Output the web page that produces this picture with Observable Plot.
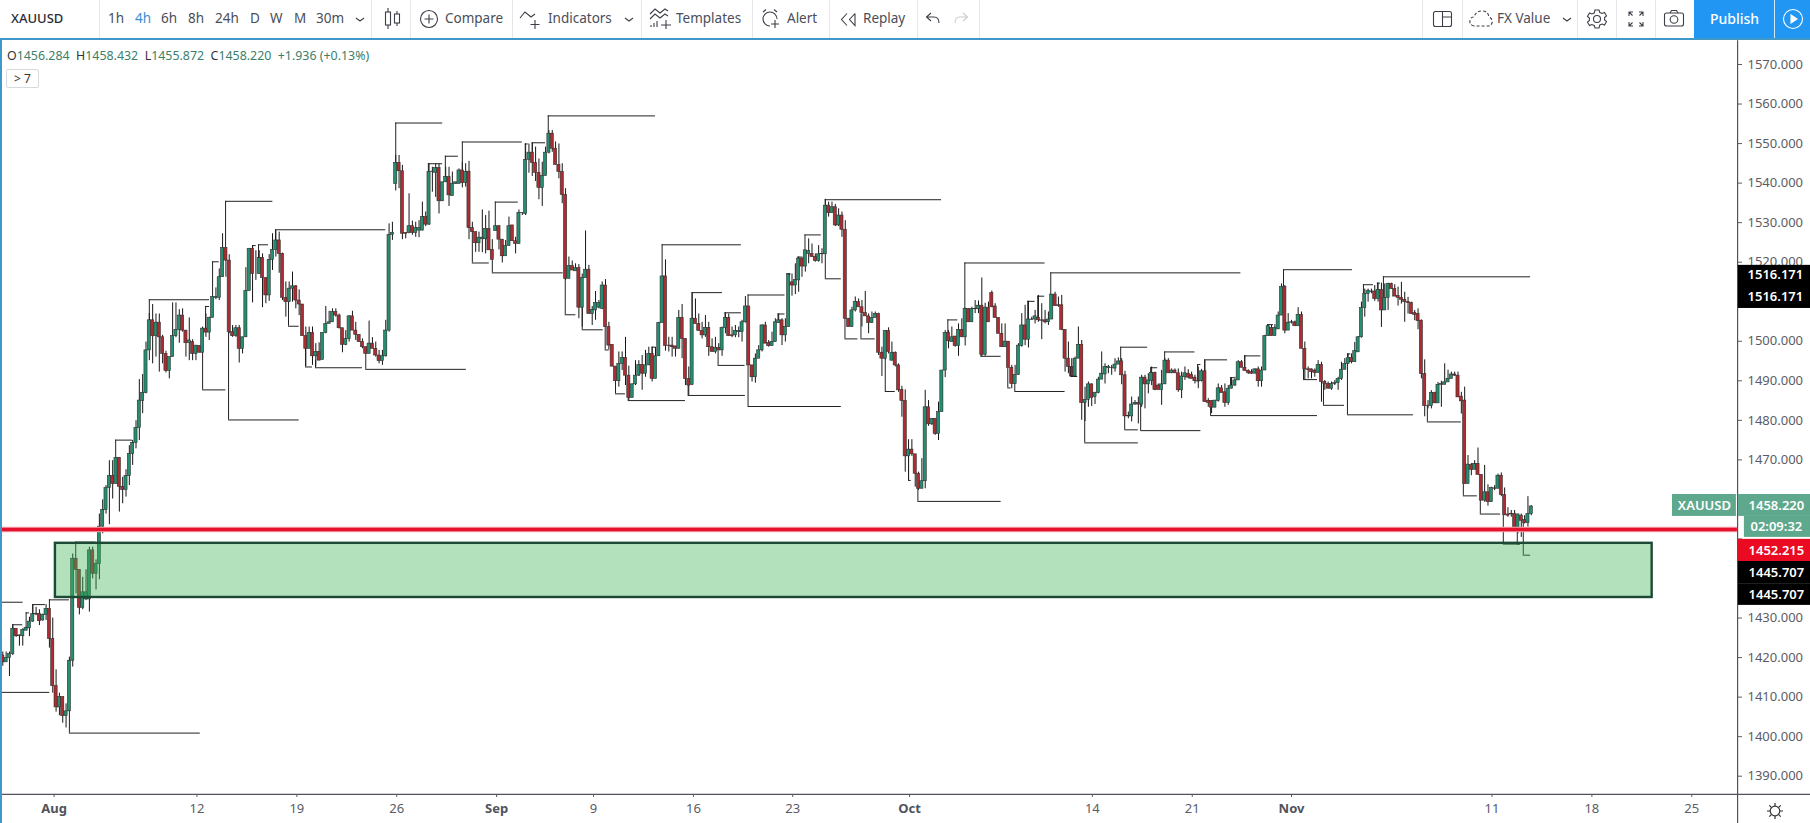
<!DOCTYPE html>
<html><head><meta charset="utf-8">
<script src="https://cdn.jsdelivr.net/npm/d3@7"></script>
<script src="https://cdn.jsdelivr.net/npm/@observablehq/plot@0.6"></script>
<style>
html,body{margin:0;padding:0;background:#fff;width:1810px;height:823px;overflow:hidden;font-family:"Noto Sans",sans-serif}
#bar{position:absolute;left:0;top:0;width:1810px;height:38px;background:#fff;border-bottom:2px solid #3f98c7}
#bar span,#bar b{position:absolute;top:9px;font-size:13.5px;line-height:19px;color:#4a4e58;font-weight:400;white-space:nowrap}
#bar i{position:absolute;top:0;width:1px;height:38px;background:#e4e6ea}
#bar svg{position:absolute;overflow:visible;fill:none;stroke:#3c3f47;stroke-width:1.1}
#pub{position:absolute;left:1694px;top:0;width:116px;height:38px;background:#2196f3}
#chart{position:absolute;left:0;top:40px}
#chart svg{overflow:visible}
#edge{position:absolute;left:0;top:38px;width:1.6px;height:785px;background:#3f98c7}
#ohlc{position:absolute;left:7px;top:47px;font-size:12.4px;line-height:18px;color:#3b7f69;white-space:nowrap}
#ohlc em{font-style:normal;color:#333}
#sev{position:absolute;left:6px;top:69px;width:31px;height:17px;border:1px solid #d8dae0;border-radius:2px;font-size:12px;line-height:17px;text-align:center;color:#333}
#gear{position:absolute;left:1767px;top:803px;fill:none;stroke:#333;stroke-width:1.2;overflow:visible}
</style></head><body>
<div id="bar">
<span style="left:11px;font-weight:500;font-size:13px;color:#2a2d35">XAUUSD</span><i style="left:99px"></i>
<span style="left:108px">1h</span><span style="left:135px;color:#3b8fd0">4h</span><span style="left:161px">6h</span><span style="left:188px">8h</span><span style="left:215px">24h</span><span style="left:250px">D</span><span style="left:270px">W</span><span style="left:294px">M</span><span style="left:316px">30m</span>
<svg style="left:356px;top:17px" width="8" height="6"><path d="M0 1l4 3 4-3"/></svg><i style="left:371px"></i>
<svg style="left:385px;top:8px" width="16" height="22"><path d="M3 0v4M3 17v4M12 3v3M12 15v3"/><rect x="0.5" y="4" width="5" height="13"/><rect x="9.5" y="6" width="5" height="9"/></svg><i style="left:410px"></i>
<svg style="left:420px;top:10px" width="18" height="18"><circle cx="9" cy="9" r="8.5"/><path d="M9 4.5v9M4.5 9h9"/></svg><span style="left:445px">Compare</span><i style="left:512px"></i>
<svg style="left:520px;top:9px" width="20" height="20"><path d="M0 9l5-6 6 5 4-3M15 11v9M10.5 15.500h9"/></svg><span style="left:548px">Indicators</span>
<svg style="left:625px;top:17px" width="8" height="6"><path d="M0 1l4 3 4-3"/></svg><i style="left:641px"></i>
<svg style="left:650px;top:8px" width="22" height="22"><path d="M0 6l5-5 5 4 5-4 3 2M0 11l5-5 5 4 5-4 3 2M1 19v-2M4 19v-4M7 19v-6M16 12v9M11 17h10"/></svg><span style="left:676px">Templates</span><i style="left:752px"></i>
<svg style="left:761px;top:9px" width="20" height="20"><path d="M9 3a7 7 0 1 0 0 14M9 3a7 7 0 0 1 7 7M2 3l3-2.500M13 0.500l3 2.500M14 11v8M10 15h8"/></svg><span style="left:787px">Alert</span><i style="left:829px"></i>
<svg style="left:841px;top:13px" width="16" height="13"><path d="M6 0.500L0.500 6.500 6 12.500M14 0.500L8.500 6.500 14 12.500V0.500"/></svg><span style="left:863px">Replay</span><i style="left:917px"></i>
<svg style="left:926px;top:13px" width="14" height="11"><path d="M5 0L0.500 4 5 8M0.500 4H8q5 0 5 6"/></svg>
<svg style="left:954px;top:13px;stroke:#c9ccd2" width="14" height="11"><path d="M9 0l4.500 4L9 8M13.500 4H6q-5 0-5 6"/></svg><i style="left:979px"></i>
<i style="left:1422px"></i><svg style="left:1433px;top:11px" width="19" height="16"><rect x="0.500" y="0.500" width="18" height="15" rx="2"/><path d="M9.500 0.500v15M9.500 6h9"/></svg><i style="left:1462px"></i>
<svg style="left:1469px;top:10px;stroke-dasharray:3 2" width="24" height="17"><path d="M5 16q-5-1-4-6 1-3 4-3 2-6 8-6 6 0 7 6 4 2 3 6-1 3-4 3H5z"/></svg><span style="left:1497px">FX Value</span>
<svg style="left:1563px;top:17px" width="8" height="6"><path d="M0 1l4 3 4-3"/></svg><i style="left:1577px"></i>
<svg style="left:1587px;top:9px" width="20" height="20"><circle cx="10" cy="10" r="3.500"/><path d="M8 1h4l.8 2.500 2.400 1 2.300-1.100 2 3.400-1.900 1.700v2.500l1.900 1.700-2 3.400-2.300-1.100-2.400 1L12 19H8l-.8-2.500-2.400-1-2.300 1.100-2-3.400 1.900-1.700V9L.5 7.300l2-3.400 2.300 1.100 2.400-1z"/></svg><i style="left:1616px"></i>
<svg style="left:1628px;top:11px" width="16" height="16"><path d="M1 5V1h4M1 1l3.500 3.500M15 5V1h-4M15 1l-3.500 3.500M1 11v4h4M1 15l3.500-3.500M15 11v4h-4M15 15l-3.500-3.500"/></svg><i style="left:1655px"></i>
<svg style="left:1664px;top:10px" width="20" height="17"><rect x="0.500" y="3" width="19" height="13" rx="2"/><circle cx="10" cy="9.500" r="3.800"/><path d="M6 3l1.500-2.500h5L14 3"/></svg>
<div id="pub"></div><span style="left:1710px;color:#fff;font-weight:500;font-size:14px">Publish</span><i style="left:1774px;background:#cfe7fb"></i>
<svg style="left:1783px;top:9px;stroke:#fff;overflow:visible" width="20" height="20"><circle cx="10" cy="10" r="9.500"/><path d="M8 6l6 4-6 4z" fill="#fff"/></svg>
</div>
<div id="chart"></div>
<div id="edge"></div>
<div id="ohlc"><em>O</em>1456.284 &nbsp;<em>H</em>1458.432 &nbsp;<em>L</em>1455.872 &nbsp;<em>C</em>1458.220 &nbsp;+1.936 (+0.13%)</div>
<div id="sev">&gt; 7</div>
<svg id="gear" width="16" height="16"><circle cx="8" cy="8" r="4.800"/><path d="M8 0v3M8 13v3M0 8h3M13 8h3M2.300 2.300l2 2M11.700 11.700l2 2M13.700 2.300l-2 2M4.300 11.700l-2 2"/></svg>
<script>
const bodyHigh=[
1420.5,1419.9,1420.9,1427.3,1427.3,1425.6,1427,1427.5,1429.1,1431,
1431,1431,1430.8,1432.3,1432.3,1424.7,1412.8,1410,1410,1406.4,
1419.2,1445,1445,1442.2,1436.5,1436.5,1447.1,1447.1,1443.7,1453.1,
1457.3,1462.9,1465.9,1465.9,1470.5,1470.5,1463.2,1465.9,1471.5,1474.3,
1478.1,1485,1486.9,1497.7,1505.3,1505.3,1504.7,1504.7,1501,1496.8,
1496,1501.3,1502.9,1506.5,1506.5,1502.7,1500.2,1499.8,1498.9,1498.8,
1503.2,1503.2,1505.9,1511.2,1511.2,1516.2,1523.6,1523.6,1520.4,1502.3,
1503.3,1503.3,1501,1512.7,1523.4,1523.4,1517,1521.1,1521.1,1516,
1520.6,1523.1,1525.5,1525.5,1522.1,1511,1513.3,1513.9,1513.9,1510.3,
1509.3,1501.3,1502.1,1502.1,1497.3,1497.3,1502.1,1504.4,1504.8,1507.4,
1507.4,1506.5,1503.3,1500.6,1506.3,1506.3,1502.7,1501.6,1499.8,1498.5,
1499.4,1499.4,1498.1,1496.4,1496.2,1502.7,1526.9,1527.4,1545.1,1545.1,
1543,1527.4,1529.1,1529.1,1528.6,1528.6,1531.4,1531.4,1542.8,1542.9,
1543.8,1543.8,1540.2,1541.5,1541.5,1539.8,1540.2,1543.2,1543.2,1542.8,
1542.9,1528.6,1527.6,1526.2,1526.2,1528.4,1528.4,1523.1,1529.1,1529.1,
1525.7,1524.1,1529.1,1529.3,1525.3,1532.5,1532.5,1545.9,1547.7,1547.7,
1545.1,1542.6,1541.8,1547.7,1552.5,1552.5,1548.7,1544.6,1542.8,1537,
1519,1519,1518.5,1518.5,1516,1518.1,1518.1,1507.9,1509.7,1509.7,
1514.1,1514.1,1503.6,1499.1,1493.6,1494.3,1495.8,1495.8,1491.3,1489.1,
1491.3,1494,1494,1493.9,1496.8,1496.8,1496.2,1504.6,1516.4,1516.4,
1498.9,1498.9,1498.7,1505.9,1505.9,1500.6,1490.5,1505.7,1505.7,1504.4,
1502.6,1503.4,1503.4,1498.5,1498.3,1498.3,1503.4,1505.9,1505.9,1501.5,
1502.6,1502.6,1504.8,1508.8,1508.8,1493.9,1495.6,1497.7,1504,1504,
1499.6,1499.8,1504.8,1505.3,1505.3,1503.6,1517,1514.9,1515.5,1520.9,
1520.9,1523,1522.8,1522.1,1521.3,1522,1522.1,1534.3,1534.3,1533.9,
1533.9,1531.8,1531.8,1528.2,1505.7,1507.8,1509.9,1509.9,1508.6,1507.1,
1506.3,1505.9,1506.9,1506.9,1497.1,1502.6,1502.6,1497.1,1497.1,1493.9,
1487.7,1484.9,1472.6,1472.6,1471.4,1466.5,1464.6,1483.3,1483.3,1480.4,
1480.4,1482.1,1492.6,1502.1,1502.1,1501,1501.2,1502.9,1502.9,1508.2,
1508.2,1508.2,1508.2,1509,1509,1508.5,1508.5,1512.2,1508.8,1505.9,
1501.9,1499.9,1499.9,1493.3,1491.5,1498.9,1504,1504,1505.5,1505.5,
1506.3,1505.9,1505.3,1505.3,1505.5,1511.8,1511.8,1509.1,1509.1,1502.9,
1495.6,1493.5,1495.6,1499.1,1499.1,1485.2,1489.1,1489.1,1486.9,1490.3,
1491.8,1493.5,1493.5,1493.3,1494.1,1494.9,1494.9,1491.4,1481.1,1484,
1484.4,1484.4,1490.8,1490.8,1490.1,1492,1492,1488.8,1489.1,1495.1,
1495.1,1492.6,1492.6,1491.9,1491.1,1491.9,1491.8,1491.5,1490.8,1489.9,
1492.4,1492.4,1484.9,1484.9,1485,1488.1,1488.1,1487.1,1488,1488.8,
1490.1,1494.7,1494.7,1493.3,1492.5,1492.2,1492.9,1492.9,1492.6,1501.3,
1503.8,1503.4,1503.4,1506.5,1513.7,1513.7,1504.7,1504.8,1504.8,1506.7,
1506.7,1498.1,1492.9,1492.9,1492.6,1494,1494,1489.7,1489.2,1489.2,
1489.4,1490.5,1492.8,1494.3,1495.7,1495.8,1497.5,1501,1508.4,1512,
1512.8,1512.6,1512.6,1513,1513,1511,1514.5,1514.5,1513.2,1511.5,
1511,1510.5,1509.9,1509.7,1507.1,1506.9,1505.2,1491.7,1483.7,1486.9,
1486.9,1489,1489.2,1489.6,1490.5,1491.6,1491.6,1491.3,1486,1485,
1468.8,1468.7,1469,1469,1466.2,1461.8,1461.8,1462.9,1462.8,1466,
1466,1461.1,1456.2,1456.3,1456.3,1456.2,1455.9,1454.8,1456.3,1458.22];
const bodyLow=[
1418.8,1418.8,1419.9,1420.9,1425.4,1425.4,1425.4,1426.8,1427.4,1429.1,
1430.9,1429.2,1429.4,1430.8,1424.7,1412.8,1407.4,1407.4,1405.2,1405.2,
1406.4,1419.2,1442.2,1432.6,1432.6,1434.7,1434.7,1441.2,1441.2,1443.7,
1453.1,1457.3,1462.9,1463.9,1463.9,1463.2,1462.4,1462.4,1465.9,1471.5,
1474.3,1478.1,1484.9,1486.9,1497.7,1501.3,1501.3,1501,1496.8,1492.5,
1492.5,1496,1501.3,1502.9,1502.7,1499.5,1499.6,1496.8,1496.8,1497.1,
1497.1,1502.2,1502.2,1505.9,1511,1511,1516.2,1520.4,1502.3,1501.3,
1501.3,1498.1,1498.1,1501,1512.7,1517,1517,1517,1516,1511.6,
1511.6,1520.6,1523.1,1522.1,1511,1509.9,1509.9,1513.3,1510.3,1509.3,
1501.3,1498.1,1498.1,1496.2,1496.2,1495.1,1495.3,1502.1,1504.4,1504.8,
1506.5,1503.3,1499.1,1499.1,1500.6,1502.7,1501.6,1499.8,1498.5,1496.8,
1496.8,1498.1,1496.4,1495,1495,1496.2,1502.7,1526.9,1539.8,1543,
1527.2,1527.2,1527.4,1527.4,1527.4,1528,1528,1529.5,1529.5,1542.8,
1542.6,1535.4,1535.4,1540.2,1536.9,1536.7,1539.8,1539.8,1540,1540,
1528.6,1527.6,1524.8,1524.8,1525.8,1525.8,1523,1520.6,1527.9,1525.7,
1521.5,1521.5,1524.1,1525.3,1524.6,1524.6,1532.4,1532.2,1545.9,1545.1,
1542.6,1538.8,1538.8,1541.8,1547.7,1548.7,1544.6,1542.8,1537,1515.8,
1515.8,1517.9,1517.7,1508.5,1508.5,1516,1506.9,1506.9,1507.8,1508.5,
1508.2,1503.6,1498.9,1493.6,1489.9,1489.9,1494.3,1491.3,1485.7,1485.7,
1489.1,1491.3,1491.8,1491.8,1493.9,1490.5,1490.5,1496.2,1504.6,1498.8,
1498.8,1498.5,1498.1,1498.1,1500.6,1490.5,1488.8,1489,1504.4,1502.6,
1501.5,1501.5,1498.5,1497.3,1497.3,1497.7,1497.7,1503.4,1501.3,1501.3,
1501.5,1502.3,1502.3,1504.8,1493.9,1490.9,1490.9,1495.6,1497.7,1499.4,
1498.8,1498.8,1499.8,1504.6,1501.5,1501.5,1503.6,1514.1,1514.1,1515.4,
1518.9,1518.9,1522.1,1521.3,1520.3,1520.3,1522,1522,1532.4,1532.4,
1529.3,1529.3,1528.2,1505.7,1503.6,1503.6,1507.8,1508.6,1507.1,1506.3,
1504.6,1504.6,1505.9,1497.1,1495.6,1495.6,1497.3,1495.1,1493.9,1487.6,
1484.9,1470.9,1470.9,1471.4,1466.5,1462.7,1462.7,1464.6,1479,1479,
1476.6,1476.6,1482.1,1492.6,1500,1499.8,1498.8,1498.8,1501,1501,
1504.8,1504.8,1508.1,1508.1,1496.6,1496.6,1504.8,1508.6,1505.9,1501.9,
1498.5,1498.5,1493.3,1489.2,1489.2,1491.5,1498.8,1500.4,1500.4,1505.4,
1505.5,1505.3,1505.2,1504.8,1504.8,1505.5,1508.9,1508.9,1502.9,1495.6,
1493.5,1491.1,1491.1,1495.6,1484.4,1484.4,1485.2,1485.7,1485.9,1486.9,
1490.3,1491.6,1493.2,1493.2,1493.1,1494.1,1491.4,1481,1481,1481,
1484,1484,1484,1489.1,1489.1,1489.9,1487.7,1487.7,1487.7,1489.1,
1491.9,1491.9,1491.9,1487.6,1487.6,1490.9,1490.8,1490.5,1489.9,1489.8,
1489.9,1484.6,1484.4,1483.2,1483.2,1484.9,1486.9,1484.4,1484.4,1488,
1488.8,1490.1,1493.3,1492.5,1492,1491.8,1491.8,1489.9,1489.9,1492.6,
1501.3,1501.3,1501.3,1503,1506.5,1502.7,1502.7,1504.7,1503.8,1503.8,
1498.1,1492.9,1492.7,1492.2,1492,1492,1489.7,1489.2,1488,1488,
1489.2,1489.4,1490.5,1492.8,1494.3,1494.7,1494.7,1497.2,1501,1508.4,
1512,1512.5,1510.7,1510.7,1507.8,1507.8,1511,1513.2,1511.3,1511,
1510.5,1509.9,1509.7,1506.9,1506.7,1505.1,1491.7,1483.6,1483.6,1483.6,
1484.3,1484.3,1489,1489,1489.6,1490.5,1491.3,1485.8,1484.8,1463.9,
1463.9,1467.5,1467.5,1466.2,1459.7,1459.7,1459.3,1459.3,1462.7,1462.7,
1461.1,1456.1,1455.9,1456.2,1452.7,1452.7,1454.6,1454,1454,1456.28];
const wickHigh=[
1421.4,1421.4,1421.4,1428.3,1427.3,1425.7,1427.3,1427.7,1430.2,1433.4,
1432.7,1432.1,1431,1433.4,1432.3,1430,1416.9,1411,1410,1408.3,
1420.1,1446.2,1445,1442.2,1440.3,1442.2,1447.9,1447.9,1444.7,1456.3,
1459.9,1463.5,1469.8,1469.8,1470.5,1470.5,1465.6,1467.5,1473.6,1474.9,
1479.9,1490.3,1491.6,1499.8,1507,1509.3,1506.9,1506.9,1501.5,1497.5,
1496,1509.7,1509.7,1508,1508.2,1502.7,1505.9,1500.4,1498.9,1498.9,
1503.6,1506.9,1506.1,1511.2,1513.5,1518.3,1527.2,1523.6,1521.9,1504,
1504,1504,1501,1518.6,1523.4,1524.2,1522.9,1522.9,1522.1,1516,
1521.9,1527.2,1528,1527.6,1522.3,1515,1515,1517.5,1514.1,1513,
1509.3,1503.6,1503.6,1503.6,1499.4,1499.6,1502.1,1508.8,1507.6,1508.2,
1508.2,1506.9,1503.3,1502.7,1506.5,1507.6,1504.8,1501.6,1500.6,1498.5,
1505.1,1500.9,1499.8,1497.7,1497.7,1505.3,1529.7,1530.1,1547,1547,
1544.5,1527.4,1537.3,1530.4,1530.1,1530.5,1535.2,1532.7,1544.9,1544,
1544.9,1544.9,1540.2,1544,1544,1542.8,1540.2,1543.6,1545.3,1544.9,
1545.5,1530.1,1527.6,1527.6,1533.2,1531.8,1532.9,1525.7,1529.1,1529.3,
1525.7,1525.5,1531.4,1529.3,1526.3,1533.2,1532.5,1549.9,1549.9,1550.2,
1549.1,1546.1,1545.3,1549.1,1553.3,1553.3,1550.4,1549.9,1544.9,1538.6,
1521.3,1520.3,1519.6,1519.4,1517,1527.9,1519.2,1508.8,1512.6,1510.3,
1515,1515.6,1504.8,1499.1,1493.6,1497.3,1497.3,1501,1493.7,1489.2,
1495.1,1495.1,1496.4,1497.7,1498.5,1498.5,1498.5,1504.8,1516.4,1520.6,
1501,1501,1498.7,1507.8,1509.3,1500.6,1493.5,1512.2,1510.7,1506.9,
1504.8,1506.5,1504.8,1500.6,1501,1499.4,1503.6,1507.2,1506.9,1503.6,
1504,1503.6,1505.3,1511.3,1508.8,1493.9,1496.8,1498.9,1504.2,1504.8,
1500.2,1502.3,1505.7,1506.9,1505.7,1505.7,1517,1517,1519.6,1521.3,
1521.3,1523,1525.9,1524.6,1522.1,1524.2,1523.4,1535.9,1535.2,1535.2,
1534.6,1533.5,1532.7,1530.5,1505.7,1508.6,1511.2,1510.7,1510.3,1512.6,
1506.9,1507.4,1507.4,1507.1,1498.5,1502.7,1503.4,1499.8,1497.3,1494.3,
1488.6,1487.7,1475.1,1475.1,1471.4,1466.9,1470.3,1487.6,1485,1480.4,
1480.4,1484.6,1492.6,1502.7,1502.7,1503.6,1501.2,1504.4,1505.7,1508.4,
1508.2,1508.6,1510.3,1510.2,1516,1509.6,1509.9,1512.7,1509.5,1505.9,
1504.4,1504.4,1499.9,1493.9,1493.9,1499.4,1507,1509.1,1510.1,1506.1,
1507.8,1511.6,1509.5,1507.8,1507.4,1511.8,1512.4,1511.2,1511.6,1502.9,
1499.8,1495.6,1496,1503.6,1500.2,1488.4,1489.7,1489.2,1487.1,1490.9,
1497.3,1494.3,1493.9,1493.9,1495.6,1495.8,1495.6,1492.4,1482.1,1485.9,
1485,1485.9,1491.4,1491.4,1491.8,1493.5,1492.2,1489.2,1492.6,1495.6,
1495.6,1493,1493,1493,1492.2,1493.5,1492.8,1492.2,1491.4,1493.5,
1492.9,1495.1,1485.5,1485,1485,1489.2,1488.8,1489.2,1488.8,1490.8,
1490.9,1495.1,1495.1,1496.4,1492.8,1492.8,1493,1493.5,1493.5,1501.5,
1504.2,1504,1504.2,1507.4,1514.5,1514.1,1507,1505.3,1505.1,1508.5,
1507.4,1499.8,1493.5,1493,1493,1495.1,1494.7,1490.1,1489.7,1489.7,
1490.1,1490.9,1494.7,1495.6,1496.8,1496.8,1499.7,1501.2,1509.9,1513.2,
1513.2,1513.2,1514.1,1514.7,1514.7,1514.5,1514.7,1514.7,1514.3,1513.7,
1514.9,1512.4,1511.1,1509.9,1507.8,1508.2,1505.4,1495.3,1485,1487.5,
1487.1,1489.6,1489.9,1494.3,1492.7,1492.2,1492.2,1492.2,1487.1,1488.4,
1471.1,1469.1,1469.8,1473,1466.2,1468.6,1463.7,1463.1,1463.5,1466.4,
1466.7,1462.9,1457.9,1457.2,1457.2,1456.3,1456.3,1455.9,1460.7,1458.43];
const wickLow=[
1417.8,1418.8,1415.2,1420.5,1425.1,1422.9,1422.9,1426.8,1425.3,1428.9,
1430.6,1428.1,1429.2,1429.4,1422.4,1411,1406.2,1405.3,1403.4,1402.2,
1406.4,1417.6,1436.1,1430.8,1432.1,1434.4,1431.5,1439.9,1437.1,1439.7,
1451.3,1456.3,1453.6,1460.1,1463.9,1456.8,1458.9,1460.6,1463.5,1468.6,
1472.8,1474.9,1481.7,1486.7,1495.1,1494.3,1496,1492.2,1494.3,1492,
1490.5,1496,1500.9,1499.5,1502.3,1496,1495.1,1495.1,1495.1,1497.1,
1497,1501,1500.2,1505.9,1510.5,1510.3,1516.2,1516.2,1501.9,1501,
1501,1494.5,1496.8,1501,1512.7,1509.7,1515.4,1517,1508.5,1509.5,
1510.1,1517.9,1521.3,1517.2,1510.3,1506.1,1509.9,1509.9,1508.2,1506.5,
1501.3,1493.6,1498.1,1493.9,1493.5,1495.1,1495.3,1501.9,1504.4,1504.8,
1506.1,1503.1,1497.1,1498.9,1499.8,1502.7,1500.2,1499.8,1498.1,1496.8,
1496.8,1498.1,1496,1494.3,1493.9,1496,1502.3,1525.5,1538,1538.6,
1525.7,1525.9,1527.2,1526.8,1526.3,1526.2,1527.9,1529,1529.3,1537.7,
1536.4,1532.2,1535.4,1540.2,1534.1,1536.7,1539.7,1539.8,1538.8,1539,
1525.7,1527.6,1522.5,1522.5,1522.4,1522.1,1523,1520.6,1527.9,1523.1,
1519.8,1521.5,1524.1,1525.3,1522.1,1524.6,1531.8,1531.8,1542.5,1541.7,
1540.4,1535.8,1534.1,1541.8,1547.4,1547.8,1544.6,1541.1,1534.8,1515.4,
1515.8,1517.9,1517.7,1505.7,1503.6,1516,1506.9,1504,1505.3,1508.2,
1508,1503.6,1497.8,1493.5,1488.4,1488.4,1492.6,1488.8,1485,1485.7,
1488.8,1491.1,1487.6,1490.9,1493.9,1489.7,1490.5,1496.2,1504.6,1497.5,
1497.3,1496,1496,1498.1,1495.6,1488.8,1486.3,1488.8,1504.4,1502.6,
1500.6,1501,1496.2,1497.3,1496.8,1497.7,1496.2,1501.9,1501.3,1500.9,
1500.9,1500.9,1499.8,1504.6,1493.9,1489.7,1489.4,1495.6,1497.3,1499.4,
1498.5,1498.8,1499.8,1504.6,1498.9,1499.8,1503.6,1511.4,1511.8,1512.4,
1516.2,1517.5,1519.6,1521.3,1520,1520,1519.6,1522,1531.4,1532.4,
1529,1529,1526.3,1505.7,1503.6,1503.6,1507.4,1508.6,1503.6,1506.3,
1501.9,1504.6,1505.9,1496.4,1491.1,1495.3,1496.8,1495,1493.5,1487.1,
1480.8,1466.9,1464.8,1470.9,1463.1,1462.3,1462.7,1462.7,1478.5,1478.7,
1476.2,1474.9,1482.1,1490.8,1498.1,1499.8,1498.5,1496.2,1501,1498.8,
1504.8,1504.8,1507,1507,1496,1496.2,1504.8,1508.5,1505.9,1501.9,
1498.5,1498.5,1493.3,1488,1489.2,1491.4,1498.5,1498.9,1498.3,1505.3,
1504.4,1504.8,1500.4,1504.4,1504,1505.5,1508.9,1508.6,1502.7,1492.2,
1491.8,1490.9,1490.9,1495.6,1480,1479.7,1483.3,1483.5,1484,1486.7,
1490.3,1489.2,1491.8,1491.4,1492.2,1494.1,1489,1481,1480.4,1479.6,
1483.8,1479.1,1483.3,1482.9,1486.7,1488.8,1487.5,1487.7,1483.8,1489.1,
1491.9,1491.8,1491.9,1487.1,1485.5,1490.1,1490.5,1490.5,1489.2,1488,
1489.7,1484.6,1483.3,1481.7,1483.2,1484.6,1486.9,1483.3,1483.8,1488,
1488.6,1490.1,1493.3,1492.5,1491.6,1491.6,1491.8,1488.4,1488.4,1492.6,
1501.3,1501.3,1501.3,1503,1506.5,1501.9,1502.7,1504.4,1503.8,1503.8,
1498.1,1490.3,1490.5,1490.5,1490.9,1492,1484.6,1487.6,1488,1487.6,
1488.8,1487.6,1490.1,1492.8,1494.3,1494.3,1494.7,1497.2,1500.8,1506.1,
1509.9,1512,1510.1,1509.9,1503.5,1507.8,1507.8,1513.2,1511.3,1508.9,
1509.4,1504.8,1506.9,1506.9,1505.2,1502.9,1490.5,1480.9,1482.9,1482.9,
1484.3,1484.3,1483.3,1489,1489.6,1490.5,1491.1,1485.8,1481.6,1463.9,
1463.9,1466,1467.5,1466.2,1459.7,1459.3,1458.3,1459.3,1462.2,1462.7,
1460.7,1455.9,1455.5,1455.5,1452.7,1451.3,1450.4,1453.8,1453,1455.87];
const directions=
"rgggrggggg"+"grggrrrgrg"+"ggrrgggrgg"+"gggrgrrggg"+"gggggrgrrr"+"ggggrrgrgr"+"grgggggrrr"+"grgggrrgrr"+"gggrrrggrr"+"rrgrgrgggg"+
"rrrggrrrrr"+"grrrgggggr"+"rrgrgggrgg"+"grggrgggrg"+"rrrgggrrgr"+"rggrrggggr"+"rrgggrrrrr"+"grgrggrggg"+"grrrrggrrg"+"ggrggrgggr"+
"rrrgrrrgrr"+"rgrrgrggrr"+"ggggrrgggr"+"rgggrggrgg"+"rggrrgggrg"+"rgrrrggrrr"+"rggrrgrgrr"+"rrgrrrggrg"+"rgggrgrgrg"+"rgggrgrrrr"+
"rgrrgggrgg"+"grrrggrrrr"+"rrggrggrgg"+"gggrggrrrg"+"grgrggrrgg"+"rgrrggrrrr"+"grrrggrrgg"+"ggrrrrgrgg"+"grgggrggrg"+"rrrrrgrrrg"+
"gggggrgggg"+"grrgrggrrr"+"rrrrrrrrrg"+"rggggg"+"rrrr"+"grgrrgrgrg"+"rrrgrgrrgg";

const swingStart=[-1,-1,20,14,21.9,33.9,3,7,9,44,60.9,60,63,66.9,67.8,75,76.8,81.9,85.8,90.9,93.9,109,118,127.8,132.9,138,156.9,159,163.8,147.9,141,147,168.9,174,180.9,184,187.8,198,195,207,205.8,216.9,214.8,223.8,223.8,232.8,235.8,238.8,240.9,247,247,252.9,257.7,265,272,274.8,283.8,288.9,293.7,301.8,303.9,307.8,310.8,314.7,320.7,324.9,335.7,336.9,341.7,344.7,348.9,358.8,360.9,362.7,368.7,372.9,379.8,384.6,390.6,396.6,403.8,403.8,408.6,412.8,414.6,427.8,438.6,443.7,450.6,454.8,456.6];
const swingEnd=[6.1,14.1,59.3,20,28,39,6,8,12.8,62.1,62.1,67,65,81.1,89,76.1,79.8,115,89,93,108,139.2,132.1,132.1,136.8,156,157.8,163,196,154.8,146.1,168.3,172.1,180.3,182.1,187,205,221.8,196,216.1,223,221.8,222.9,234.9,251.8,234.9,236.7,240,245.8,281.9,251.8,256.8,262,268,272.8,299.8,286.8,313,299.8,302.8,319,310,312.9,371.8,322.8,341,343.8,341,359.8,346.8,358,359.8,367.8,394.8,369.9,377.8,381.6,405.3,394.8,402.9,423.6,404.8,411.6,413.7,458.8,438,442.8,449.8,455.7,455.7,458.8];
const swingFrom=[1434,1411.2,1406.4,1432.3,1445,1470.5,1427.3,1427.5,1431,1505.3,1503.2,1497.1,1511.2,1523.6,1502.3,1523.4,1521,1525.5,1509.9,1498.1,1495.2,1496.8,1545.1,1542.8,1541.5,1543.2,1545.9,1547.7,1552.5,1529.1,1527.6,1520.6,1515.8,1508.5,1503.6,1489.9,1485.7,1516.4,1496.8,1505.7,1488.8,1505.9,1497.7,1508.8,1493.9,1505.3,1517,1520.9,1523,1534.3,1522,1505.7,1506.9,1495.6,1470.9,1462.7,1502.1,1508.2,1496.6,1493.3,1489.2,1505.5,1505.9,1511.8,1493.5,1484.4,1494.9,1481,1484,1492,1495.1,1489.9,1492.4,1483.2,1488.8,1493.3,1503.8,1513.7,1492.9,1489.2,1494.3,1495.8,1512,1513,1511,1483.6,1463.9,1459.7,1456.1,1452.7,1454];
const swingLevel=[1434,1411.2,1400.9,1434.6,1449.2,1475,1428.3,1431.3,1433.4,1510.5,1508.8,1487.7,1520.1,1535.4,1480.1,1524.2,1524.4,1528.2,1503.8,1493.5,1493.3,1492.9,1555.2,1544.9,1546.8,1550.4,1549.9,1550.2,1557,1535.2,1519.8,1517.3,1506.7,1502.9,1497.8,1486.7,1485,1524.4,1498.5,1512.3,1486.3,1507.2,1493.9,1511.7,1483.5,1506.9,1517,1521.3,1526.9,1535.8,1515.8,1500.6,1500.6,1487.3,1464.8,1459.5,1505.4,1519.8,1496.2,1488.2,1487.3,1510.1,1511.4,1517.3,1491.1,1474.3,1498.5,1477.6,1477.4,1493.3,1497.3,1494.1,1495.3,1481.2,1490.8,1496.3,1504.2,1518.1,1490.3,1483.8,1481.4,1496.8,1514.3,1514.7,1516.3,1479.6,1460.9,1456.3,1448.7,1448.7,1445.9];

const priceTicks=d3.range(1390,1571,10);
const coveredPrices=[1440,1450,1460,1510];
const monthTicks=[15.4,148.3,272.3,387];
const monthLabels=["Aug","Sep","Oct","Nov"];
const dayTicks=[58.3,88.3,118.3,177.4,207.4,237.2,327.2,357.2,447.2,477.2,507.2];
const dayLabels=["12","19","26","9","16","23","14","21","11","18","25"];
const zone={from:15.8,to:495.3,low:1435.2,high:1448.9};
const supportLine=1452.4;
const tagText=["XAUUSD","1458.220","02:09:32","1452.215","1445.707","1445.707"];
const tagLeft=[501.4,521.2,523,521.2,521.2,521.2];
const tagTop=[1461.25,1461.25,1455.7,1449.9,1444.3,1438.7];
const tagBottom=[1455.7,1455.7,1450.4,1444.3,1438.7,1433.2];
const tagFill=["#5ea88d","#5ea88d","#5ea88d","#ea0a22","#000","#000"];
const tagRight=[520.6,543,543,543,543,543];
const blackTagText=["1516.171","1516.171"];
const blackTagPrice=[1516.8,1511.2];

const idx=d3.range(bodyHigh.length);
const up=i=>directions[i]==="g";
const swings=d3.range(swingStart.length);
const tags=d3.range(tagText.length);
const font='"Noto Sans",sans-serif';
const chart=Plot.plot({
  width:1810,height:783,marginLeft:0,marginRight:73,marginTop:0,marginBottom:29,
  x:{domain:[0,520],range:[2.3,1733.9]},
  y:{domain:[1390,1570],range:[735.7,24]},
  style:{fontFamily:font,fontSize:"13px",background:"transparent"},
  marks:[
    Plot.ruleX(idx,{x:i=>i,y1:i=>Math.min(wickLow[i],bodyLow[i]),y2:i=>Math.max(wickHigh[i],bodyHigh[i]),stroke:"#161616",strokeWidth:1}),
    Plot.rect(idx,{x1:i=>i-.47,x2:i=>i+.47,y1:i=>bodyLow[i],y2:i=>bodyHigh[i],fill:i=>up(i)?"#238f70":"#ad2c31",stroke:"#2f2f2f",strokeWidth:.6}),
    Plot.ruleX(swings,{x:i=>swingStart[i],y1:i=>swingFrom[i],y2:i=>swingLevel[i],stroke:"#222",strokeWidth:1}),
    Plot.ruleY(swings,{y:i=>swingLevel[i],x1:i=>swingStart[i],x2:i=>swingEnd[i],stroke:"#222",strokeWidth:1}),
    Plot.rect([zone],{x1:"from",x2:"to",y1:"low",y2:"high",fill:"#3fb557",fillOpacity:.4,stroke:"#1d4a35",strokeWidth:2.4}),
    Plot.ruleY([supportLine],{x1:-1,x2:520.9,stroke:"#f7a6b0",strokeWidth:5.4}),
    Plot.ruleY([supportLine],{x1:-1,x2:520.9,stroke:"#e4122c",strokeWidth:3.6}),
    Plot.ruleX([520.96],{y1:1576,y2:1378,stroke:"#50535c",strokeWidth:1.2}),
    Plot.ruleY([1385.4],{x1:-1,x2:543,stroke:"#50535c",strokeWidth:1.2}),
    Plot.axisY({anchor:"right",ticks:priceTicks,tickFormat:d=>coveredPrices.includes(d)?"":d.toFixed(3),tickSize:4,tickPadding:6,label:null,color:"#5a5d66"}),
    Plot.axisX({ticks:dayTicks,tickFormat:d=>dayLabels[dayTicks.indexOf(d)],tickSize:3,tickPadding:6,label:null,color:"#5a5d66"}),
    Plot.axisX({ticks:monthTicks,tickFormat:d=>monthLabels[monthTicks.indexOf(d)],tickSize:3,tickPadding:6,label:null,color:"#50535c",fontWeight:"bold"}),
    Plot.rect(blackTagPrice.slice(0,1),{x1:521.2,x2:543,y1:1508.3,y2:1519.2,fill:"#000"}),
    Plot.text(blackTagText,{x:532.3,y:(d,i)=>blackTagPrice[i],text:d=>d,fill:"#fff",fontWeight:600,fontSize:13}),
    Plot.rect(tags,{x1:i=>tagLeft[i],x2:i=>tagRight[i],y1:i=>tagBottom[i],y2:i=>tagTop[i],fill:i=>tagFill[i]}),
    Plot.text(tags,{x:i=>i==0?511:532.6,y:i=>(tagTop[i]+tagBottom[i])/2,text:i=>tagText[i],fill:"#fff",fontWeight:600,fontSize:13})
  ]
});
document.getElementById("chart").append(chart);
</script>
</body></html>
